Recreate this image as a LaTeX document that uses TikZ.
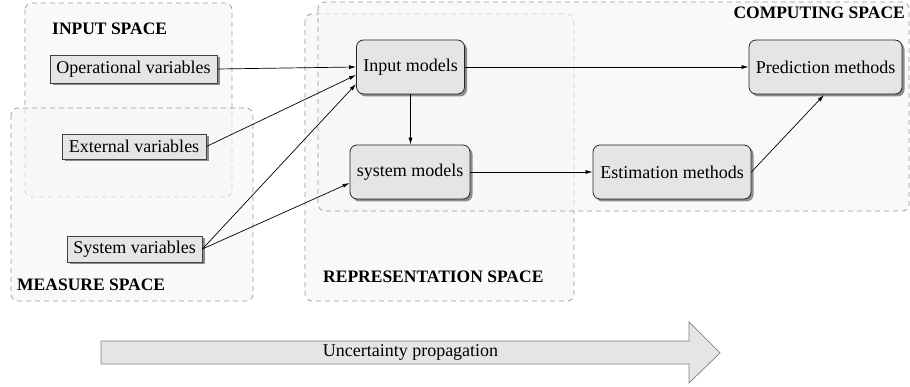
\documentclass[tikz,border=0pt]{standalone}
\usepackage{fontspec}
\setmainfont{Liberation Serif}
\usetikzlibrary{arrows.meta,shadows}
\begin{document}
\begin{tikzpicture}[x=1pt,y=-1pt,
  region/.style={draw=black!40, dash pattern=on 5pt off 4pt, rounded corners=7pt, fill=black!4, fill opacity=0.6, line width=0.7pt},
  rlabel/.style={font=\fontsize{17.5}{20}\selectfont\bfseries, inner sep=0pt},
  varbox/.style={draw=black!75, fill=black!10, line width=0.8pt, inner sep=0pt, font=\fontsize{18}{20}\selectfont,
     drop shadow={shadow xshift=2.5pt, shadow yshift=-2.5pt, fill=black!45, opacity=1}},
  modbox/.style={draw=black!85, fill=black!10, line width=0.8pt, rounded corners=7pt, inner sep=0pt, font=\fontsize{18}{20}\selectfont,
     drop shadow={shadow xshift=2.5pt, shadow yshift=-2.5pt, fill=black!45, opacity=1}},
  conn/.style={-{Latex[length=7pt,width=4pt]}, line width=0.7pt}
]
\useasboundingbox (0,0) rectangle (910,387);
% regions
\draw[region] (25,3) rectangle (232,197);
\draw[region] (11,108) rectangle (253,301);
\draw[region] (305,14) rectangle (574,301);
\draw[region] (318,2) rectangle (909,211);
\node[rlabel, anchor=west] (lin) at (52,29) {INPUT SPACE};
\node[rlabel, anchor=west] (lme) at (17,285) {MEASURE SPACE};
\node[rlabel, anchor=west] (lre) at (323,277) {REPRESENTATION SPACE};
\node[rlabel, anchor=east] (lco) at (905,13) {COMPUTING SPACE};
% variable boxes
\node[varbox, minimum width=167pt, minimum height=28pt] (op) at (133.5,69) {Operational variables};
\node[varbox, minimum width=144pt, minimum height=25pt] (ext) at (134,146.5) {External variables};
\node[varbox, minimum width=135pt, minimum height=26pt] (sys) at (134.5,249) {System variables};
% model boxes
\node[modbox, minimum width=108pt, minimum height=54pt] (inm) at (410.5,67) {Input models};
\node[modbox, minimum width=120pt, minimum height=54pt] (sysm) at (410,172) {system models};
\node[modbox, minimum width=153pt, minimum height=54pt] (pred) at (825.5,67) {Prediction methods};
\node[modbox, minimum width=158pt, minimum height=54pt] (est) at (672,172) {Estimation methods};
% connectors
\draw[conn] (op.east) -- (inm.west |- 0,67);
\draw[conn] (ext.east) -- (inm.west |- 0,75);
\draw[conn] (sys.east) -- (inm.west |- 0,84);
\draw[conn] (sys.east) -- (sysm.west |- 0,183);
\draw[conn] (inm.south) -- (sysm.north -| inm.south);
\draw[conn] (inm.east) -- (pred.west);
\draw[conn] (sysm.east) -- (est.west);
\draw[conn] (est.east) -- (824,95);
% uncertainty arrow
\draw[draw=black!50, fill=black!10, line width=0.7pt] (101,341) -- (689,341) -- (689,322) -- (720,353) -- (689,383) -- (689,364) -- (101,364) -- cycle;
\node[inner sep=0pt, font=\fontsize{18}{20}\selectfont] (unc) at (410.5,352) {Uncertainty propagation};
\end{tikzpicture}
\end{document}
